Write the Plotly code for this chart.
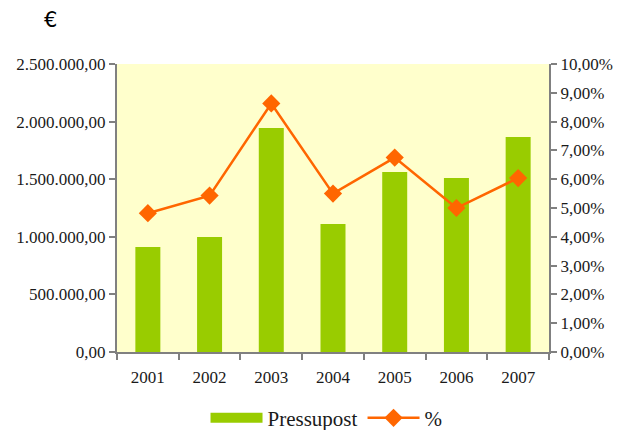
import plotly.graph_objects as go

years = ["2001", "2002", "2003", "2004", "2005", "2006", "2007"]
pressupost = [911000, 998000, 1944000, 1111000, 1562000, 1510000, 1866000]
percent = [0.0482, 0.0543, 0.0863, 0.0550, 0.0675, 0.0500, 0.0604]

serif = "'Liberation Serif', 'Times New Roman', 'DejaVu Serif', serif"
axis_col = "#808080"
text_col = "#1a1a1a"
bar_col = "#99CC00"
line_col = "#FF6600"

fig = go.Figure()
fig.add_trace(go.Bar(
    x=years, y=pressupost, name="Pressupost",
    marker=dict(color=bar_col, line=dict(width=0)),
    yaxis="y", showlegend=False,
))
# legend proxy for the bars (wide rectangular swatch, draws nothing)
fig.add_trace(go.Scatter(
    x=[None], y=[None], name="Pressupost", mode="lines",
    line=dict(color=bar_col, width=14), yaxis="y",
    hoverinfo="skip",
))
fig.add_trace(go.Scatter(
    x=years, y=percent, name="%", mode="lines+markers",
    line=dict(color=line_col, width=2.5),
    marker=dict(symbol="diamond", size=14, color=line_col),
    yaxis="y2",
))

fig.update_layout(
    width=625, height=422,
    margin=dict(l=109, r=84, t=56, b=78, autoexpand=False),
    paper_bgcolor="white",
    plot_bgcolor="#FFFFCC",
    separators=",.",
    bargap=0.595,
    font=dict(family=serif, size=17, color=text_col),
    showlegend=True,
    legend=dict(
        orientation="h", x=0.485, xanchor="center",
        yref="container", y=0.028, yanchor="middle",
        font=dict(family=serif, size=21, color=text_col),
        itemwidth=52,
        traceorder="normal",
        bgcolor="rgba(0,0,0,0)",
    ),
    xaxis=dict(
        type="category", automargin=False,
        showline=True, linecolor=axis_col, linewidth=2,
        ticks="outside", ticklen=6, tickwidth=2, tickcolor=axis_col,
        tickson="boundaries",
        showgrid=False, zeroline=False,
        tickfont=dict(family=serif, size=17, color=text_col),
        ticklabelstandoff=9,
    ),
    yaxis=dict(
        range=[0, 2500000], dtick=500000, tickformat=",.2f", automargin=False,
        showline=True, linecolor=axis_col, linewidth=2,
        ticks="outside", ticklen=6, tickwidth=2, tickcolor=axis_col,
        showgrid=False, zeroline=False,
        tickfont=dict(family=serif, size=17, color=text_col),
    ),
    yaxis2=dict(
        range=[0, 0.10], dtick=0.01, tickformat=".2%", automargin=False,
        overlaying="y", side="right",
        showline=True, linecolor=axis_col, linewidth=2,
        ticks="outside", ticklen=6, tickwidth=2, tickcolor=axis_col,
        showgrid=False, zeroline=False,
        tickfont=dict(family=serif, size=17, color=text_col),
    ),
    annotations=[dict(
        text="€", xref="paper", yref="paper", x=-0.155, y=1.153,
        xanchor="center", yanchor="middle", showarrow=False,
        font=dict(family="DejaVu Sans", size=21, color="#000000"),
    )],
)

fig.write_html("out.html")
